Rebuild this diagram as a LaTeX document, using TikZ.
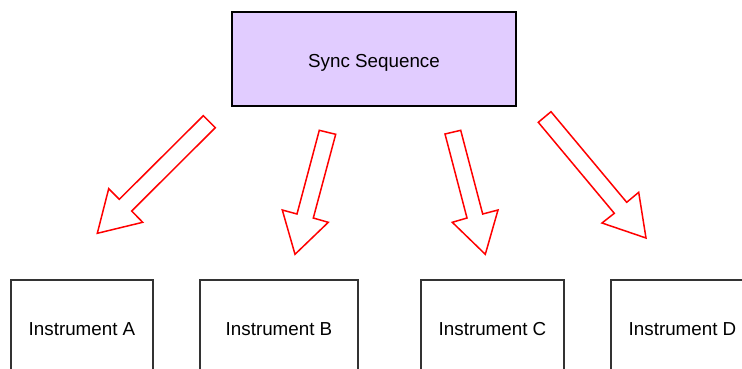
\documentclass[tikz,border=0pt]{standalone}
\usepackage{fontspec}
\setmainfont{Liberation Sans}
\begin{document}
\begin{tikzpicture}[x=1pt,y=-1pt,
  sync/.style={draw=black,line width=1.5pt,fill=syncfill,minimum width=284pt,minimum height=94pt,inner sep=0pt,text height=17.4pt,text depth=0pt,font=\fontsize{18.8}{22}\selectfont},
  instr/.style={draw=boxgray,line width=1.2pt,fill=white,minimum height=98pt,inner sep=0pt,text height=13.4pt,text depth=0pt,font=\fontsize{18.8}{22}\selectfont},
  blockarrow/.style={draw=red,line width=1.5pt,line join=miter,fill=white}]
\definecolor{syncfill}{HTML}{E1CCFF}
\definecolor{boxgray}{HTML}{333333}
\useasboundingbox (0,0) rectangle (742,368);
\clip (0,0) rectangle (742,368);
\node[sync] (sync) at (374,59) {Sync Sequence};
\node[instr,minimum width=142pt] (ia) at (82,329) {Instrument A};
\node[instr,minimum width=158pt] (ib) at (279,329) {Instrument B};
\node[instr,minimum width=143pt] (ic) at (492.5,329) {Instrument C};
\node[instr,minimum width=143pt] (id) at (682.5,329) {Instrument D};
% block arrows
\draw[blockarrow] (203.3,115.7) -- (215.3,127.7) -- (131.7,211) -- (142.7,222.3) -- (97.3,233.3) -- (108.7,188.7) -- (119.3,199.3) -- cycle;
\draw[blockarrow] (319.3,130.3) -- (335.7,134.3) -- (313.3,218) -- (328.3,222.3) -- (295,254.3) -- (282.3,210) -- (297,214) -- cycle;
\draw[blockarrow] (460.7,130.3) -- (445,134) -- (467,218) -- (452.3,222.3) -- (485.3,254.3) -- (498,210) -- (482.7,214) -- cycle;
\draw[blockarrow] (551,111.7) -- (538.3,122.3) -- (614.3,213.3) -- (602,223) -- (646,238) -- (638.7,192.3) -- (626.7,202.3) -- cycle;
\end{tikzpicture}
\end{document}
